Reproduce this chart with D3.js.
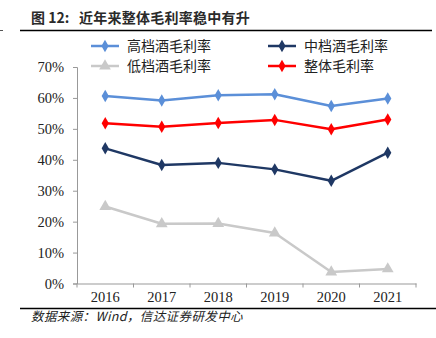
<!DOCTYPE html>
<html><head><meta charset="utf-8">
<script src="https://cdn.jsdelivr.net/npm/d3@7"></script>
<style>body{margin:0;background:#fff;} svg{display:block;}</style>
</head><body>
<script>
const years = ["2016","2017","2018","2019","2020","2021"];
const highEnd = [60.6, 59.2, 60.9, 61.2, 57.4, 59.8];
const midEnd = [43.7, 38.3, 39.0, 36.9, 33.2, 42.3];
const lowEnd = [24.9, 19.3, 19.4, 16.3, 3.7, 4.7];
const overall = [51.8, 50.7, 51.9, 52.9, 49.9, 53.0];
const yTicks = [0,10,20,30,40,50,60,70];
const seriesNames = ["高档酒毛利率","中档酒毛利率","低档酒毛利率","整体毛利率"];
const titleLabel = "图 12:";
const titleText = "近年来整体毛利率稳中有升";
const sourceText = "数据来源：Wind，信达证券研发中心";

const W=436,H=338;
const svg=d3.select("body").append("svg").attr("width",W).attr("height",H);
const cjk="'Noto Sans CJK SC','Noto Sans',sans-serif";
const serif="'Liberation Serif','Times New Roman',serif";

const t=svg.append("text").attr("y",23).attr("font-family",cjk).attr("font-size",14).attr("font-weight","bold").attr("fill","#2a2a2a");
t.append("tspan").attr("x",31).text(titleLabel);
t.append("tspan").attr("x",79).attr("letter-spacing",0.25).text(titleText);
svg.append("line").attr("x1",20).attr("x2",432).attr("y1",30.5).attr("y2",30.5).attr("stroke","#000").attr("stroke-width",1.3);
svg.append("line").attr("x1",0).attr("x2",3).attr("y1",30.5).attr("y2",30.5).attr("stroke","#555").attr("stroke-width",1);

const x=d3.scaleBand().domain(years).range([77,416]);
const y=d3.scaleLinear().domain([0,70]).range([283.5,67]);

// axes
const yAxis=svg.append("g").attr("transform","translate(77,0)").call(d3.axisLeft(y).tickValues(yTicks).tickSize(4).tickFormat(d=>d+"%"));
yAxis.select(".domain").attr("stroke","#999");
yAxis.selectAll(".tick line").attr("stroke","#999");
yAxis.selectAll("text").attr("font-family",serif).attr("font-size",14.5).attr("fill","#222").attr("x",-13);

const xAxis=svg.append("g").attr("transform","translate(0,283.5)").call(d3.axisBottom(x).tickSize(0).tickSizeOuter(0));
xAxis.select(".domain").attr("stroke","#999");
xAxis.selectAll("text").attr("font-family",serif).attr("font-size",14.5).attr("fill","#222").attr("dy","0.71em").attr("y",8);
const bounds=years.map(d=>x(d)).concat([x.range()[1]]);
svg.append("g").selectAll("line").data(bounds).join("line")
  .attr("x1",d=>d).attr("x2",d=>d).attr("y1",283.5).attr("y2",287.5).attr("stroke","#999");

const cx=d=>x(d)+x.bandwidth()/2;
const series=[
 {name:seriesNames[0],vals:highEnd,color:"#5B8FD8",shape:"diamond"},
 {name:seriesNames[3],vals:overall,color:"#FF0000",shape:"diamond"},
 {name:seriesNames[1],vals:midEnd,color:"#1F3864",shape:"diamond"},
 {name:seriesNames[2],vals:lowEnd,color:"#C9C9C9",shape:"triangle"}
];
const diamond=d3.symbol().type(d3.symbolDiamond).size(45);
const tri=d3.symbol().type(d3.symbolTriangle).size(60);
const line=d3.line().x((d,i)=>cx(years[i])).y(d=>y(d));
series.forEach(s=>{
  svg.append("path").attr("d",line(s.vals)).attr("fill","none").attr("stroke",s.color).attr("stroke-width",2.5).attr("stroke-linejoin","round");
  svg.append("g").selectAll("path").data(s.vals).join("path")
    .attr("d",s.shape==="diamond"?diamond:tri)
    .attr("transform",(d,i)=>`translate(${cx(years[i])},${y(d)})`)
    .attr("fill",s.color);
});

// legend
const legend=[
 {name:seriesNames[0],color:"#5B8FD8",shape:"diamond",x:91,y:46},
 {name:seriesNames[1],color:"#1F3864",shape:"diamond",x:268,y:46},
 {name:seriesNames[2],color:"#C9C9C9",shape:"triangle",x:91,y:66},
 {name:seriesNames[3],color:"#FF0000",shape:"diamond",x:268,y:66}
];
legend.forEach(l=>{
  const g=svg.append("g");
  g.append("line").attr("x1",l.x).attr("x2",l.x+28).attr("y1",l.y).attr("y2",l.y).attr("stroke",l.color).attr("stroke-width",2.5);
  g.append("path").attr("d",l.shape==="diamond"?diamond:tri).attr("transform",`translate(${l.x+14},${l.y})`).attr("fill",l.color);
  g.append("text").attr("x",l.x+36).attr("y",l.y+5).attr("font-family",cjk).attr("font-size",14).attr("fill","#222").text(l.name);
});

svg.append("line").attr("x1",20).attr("x2",436).attr("y1",308.5).attr("y2",308.5).attr("stroke","#000").attr("stroke-width",1.3);
svg.append("text").attr("x",31).attr("y",321).attr("font-family",cjk).attr("font-size",12.5).attr("letter-spacing",0.4).attr("font-style","italic").attr("fill","#222").text(sourceText);
</script>
</body></html>
